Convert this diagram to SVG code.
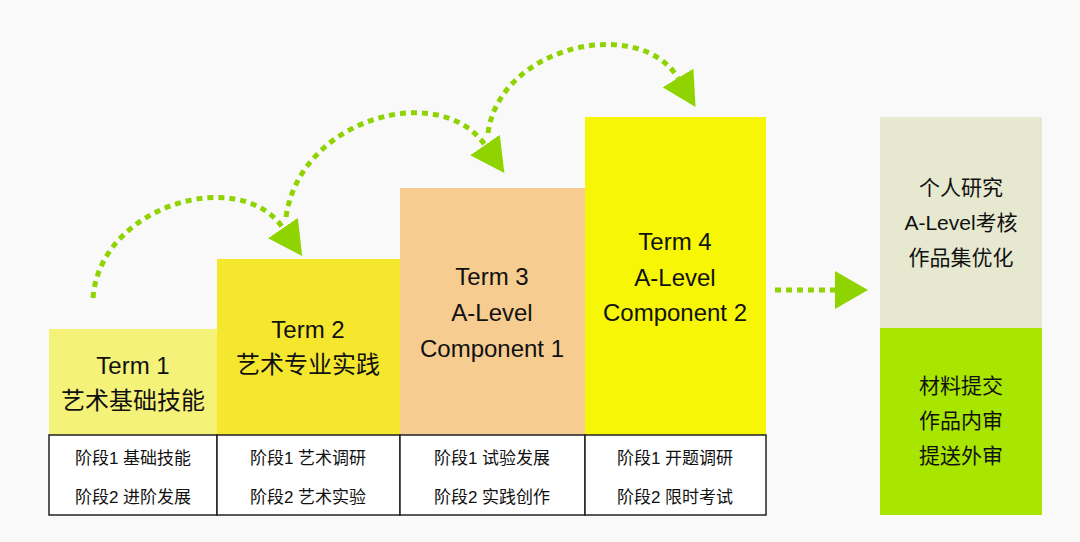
<svg xmlns="http://www.w3.org/2000/svg" width="1080" height="542" viewBox="0 0 1080 542">
<style>
text{font-family:"Liberation Sans","Noto Sans CJK SC",sans-serif;fill:#111;text-anchor:middle}
.t{font-size:24px}
.s{font-size:17px}
.r{font-size:21px}
.arc{fill:none;stroke:#8fd400;stroke-width:5;stroke-dasharray:6 5}
.cell{fill:#fff;stroke:#222;stroke-width:1.5}
</style>
<defs>
<marker id="ah" markerUnits="userSpaceOnUse" markerWidth="40" markerHeight="40" refX="0" refY="18" orient="auto">
<path d="M0,0 L34,18 L0,36 Z" fill="#8fd400"/>
</marker>
</defs>
<rect width="1080" height="542" fill="#f9f9f9"/>
<g id="term1"><rect x="49" y="329" width="168" height="106" fill="#f5f27a"/><text class="t" x="133" y="374">Term 1</text><text class="t" x="133" y="409">艺术基础技能</text></g>
<g id="term2"><rect x="217" y="259" width="183" height="176" fill="#f5e62e"/><text class="t" x="308" y="338">Term 2</text><text class="t" x="308" y="373">艺术专业实践</text></g>
<g id="term3"><rect x="400" y="188" width="185" height="247" fill="#f6cc90"/><text class="t" x="492" y="285">Term 3</text><text class="t" x="492" y="321">A-Level</text><text class="t" x="492" y="357">Component 1</text></g>
<g id="term4"><rect x="585" y="117" width="181" height="318" fill="#f7f705"/><text class="t" x="675" y="250">Term 4</text><text class="t" x="675" y="286">A-Level</text><text class="t" x="675" y="321">Component 2</text></g>
<g id="table">
<rect class="cell" x="49" y="435" width="168" height="80"/><rect class="cell" x="217" y="435" width="183" height="80"/><rect class="cell" x="400" y="435" width="185" height="80"/><rect class="cell" x="585" y="435" width="181" height="80"/>
<text class="s" x="133" y="464">阶段1 基础技能</text><text class="s" x="133" y="503">阶段2 进阶发展</text>
<text class="s" x="308" y="464">阶段1 艺术调研</text><text class="s" x="308" y="503">阶段2 艺术实验</text>
<text class="s" x="492" y="464">阶段1 试验发展</text><text class="s" x="492" y="503">阶段2 实践创作</text>
<text class="s" x="675" y="464">阶段1 开题调研</text><text class="s" x="675" y="503">阶段2 限时考试</text>
</g>
<g id="final">
<rect x="880" y="117" width="162" height="211" fill="#e6e8d0"/><rect x="880" y="328" width="162" height="187" fill="#a8e600"/>
<text class="r" x="961" y="195">个人研究</text><text class="r" x="961" y="230">A-Level考核</text><text class="r" x="961" y="265">作品集优化</text>
<text class="r" x="961" y="393">材料提交</text><text class="r" x="961" y="428">作品内审</text><text class="r" x="961" y="463">提送外审</text>
</g>
<g id="connectors">
<path class="arc" d="M93,298 C100,205 240,165 283,228" marker-end="url(#ah)"/>
<path class="arc" d="M286,217 C300,118 440,80 485,145" marker-end="url(#ah)"/>
<path class="arc" d="M488,133 C500,45 640,15 678,78" marker-end="url(#ah)"/>
<path class="arc" d="M775,290 L835,290"/>
<path d="M835,271 L868,290 L835,309 Z" fill="#8fd400"/>
</g>
</svg>
